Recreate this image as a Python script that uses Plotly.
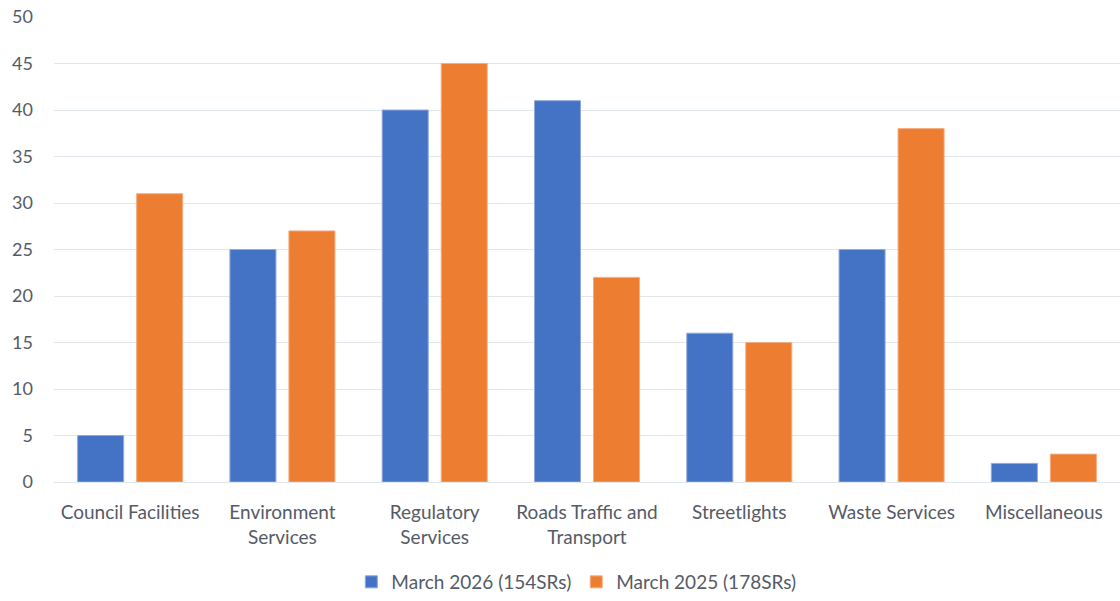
import plotly.graph_objects as go

categories = [
    "Council Facilities",
    "Environment<br>Services",
    "Regulatory<br>Services",
    "Roads Traffic and<br>Transport",
    "Streetlights",
    "Waste Services",
    "Miscellaneous",
]
march_2026 = [5, 25, 40, 41, 16, 25, 2]
march_2025 = [31, 27, 45, 22, 15, 38, 3]
series_names = ["March 2026 (154SRs)", "March 2025 (178SRs)"]
y_ticks = [0, 5, 10, 15, 20, 25, 30, 35, 40, 45, 50]

BLUE = "#4472c4"
ORANGE = "#ed7d31"
TEXT = "#555b66"
FONT = "Lato, 'Open Sans', sans-serif"

fig = go.Figure()
fig.add_trace(go.Bar(
    x=categories, y=march_2026, name=series_names[0],
    marker=dict(color=BLUE, line=dict(color="#8fa9dc", width=1)),
))
fig.add_trace(go.Bar(
    x=categories, y=march_2025, name=series_names[1],
    marker=dict(color=ORANGE, line=dict(color="#f4ad82", width=1)),
))

fig.update_layout(
    width=1120, height=601,
    margin=dict(l=54, r=0, t=17, b=118),
    paper_bgcolor="white", plot_bgcolor="white",
    barmode="group", bargap=0.225, bargroupgap=0.22,
    font=dict(family=FONT, size=19, color=TEXT),
    showlegend=True,
    legend=dict(
        orientation="h", x=0.49, xanchor="center", y=-0.215, yanchor="middle",
        font=dict(family=FONT, size=19, color=TEXT),
        itemwidth=30, traceorder="normal",
    ),
)
fig.update_xaxes(
    showgrid=False, showline=False, ticks="", ticklabelstandoff=17,
    tickfont=dict(size=19, color=TEXT),
)
fig.update_yaxes(
    range=[0, 50], tickvals=y_ticks, showgrid=True, gridcolor="#e1e5ec", gridwidth=1,
    zeroline=True, zerolinecolor="#e1e5ec", zerolinewidth=1, showline=False,
    ticks="", ticklabelstandoff=20, tickfont=dict(size=18, color=TEXT),
)

fig.write_html("out.html")
